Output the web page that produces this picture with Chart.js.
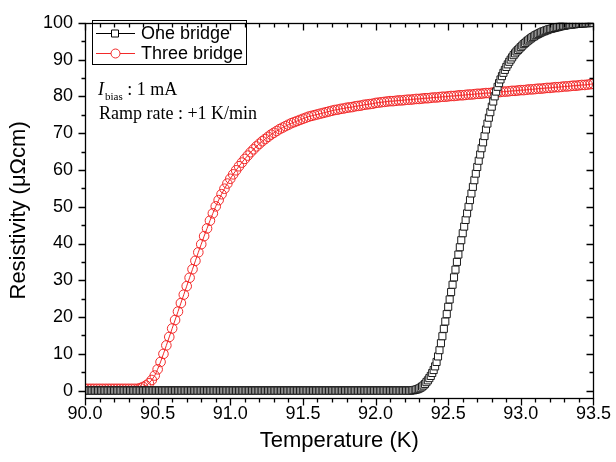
<!DOCTYPE html>
<html><head><meta charset="utf-8">
<script src="https://cdn.jsdelivr.net/npm/chart.js@4/dist/chart.umd.min.js"></script>
<style>html,body{margin:0;padding:0;background:#fff;}#wrap{position:relative;width:616px;height:462px;}</style>
</head><body><div id="wrap"><canvas id="c" width="616" height="462"></canvas></div>
<script>
// Temperatures (K) of the "One bridge" measurement
const tempsOne = [
90.00,90.01,90.02,90.03,90.04,90.05,90.06,90.07,90.08,90.09,
90.10,90.11,90.12,90.13,90.14,90.15,90.16,90.17,90.18,90.19,
90.20,90.21,90.22,90.23,90.24,90.25,90.26,90.27,90.28,90.29,
90.30,90.31,90.32,90.33,90.34,90.35,90.36,90.37,90.38,90.39,
90.40,90.41,90.42,90.43,90.44,90.45,90.46,90.47,90.48,90.49,
90.50,90.51,90.52,90.53,90.54,90.55,90.56,90.57,90.58,90.59,
90.60,90.61,90.62,90.63,90.64,90.65,90.66,90.67,90.68,90.69,
90.70,90.71,90.72,90.73,90.74,90.75,90.76,90.77,90.78,90.79,
90.80,90.81,90.82,90.83,90.84,90.85,90.86,90.87,90.88,90.89,
90.90,90.91,90.92,90.93,90.94,90.95,90.96,90.97,90.98,90.99,
91.00,91.01,91.02,91.03,91.04,91.05,91.06,91.07,91.08,91.09,
91.10,91.11,91.12,91.13,91.14,91.15,91.16,91.17,91.18,91.19,
91.20,91.21,91.22,91.23,91.24,91.25,91.26,91.27,91.28,91.29,
91.30,91.31,91.32,91.33,91.34,91.35,91.36,91.37,91.38,91.39,
91.40,91.41,91.42,91.43,91.44,91.45,91.46,91.47,91.48,91.49,
91.50,91.51,91.52,91.53,91.54,91.55,91.56,91.57,91.58,91.59,
91.60,91.61,91.62,91.63,91.64,91.65,91.66,91.67,91.68,91.69,
91.70,91.71,91.72,91.73,91.74,91.75,91.76,91.77,91.78,91.79,
91.80,91.81,91.82,91.83,91.84,91.85,91.86,91.87,91.88,91.89,
91.90,91.91,91.92,91.93,91.94,91.95,91.96,91.97,91.98,91.99,
92.00,92.01,92.02,92.03,92.04,92.05,92.06,92.07,92.08,92.09,
92.10,92.11,92.12,92.13,92.14,92.15,92.16,92.17,92.18,92.19,
92.20,92.21,92.22,92.23,92.24,92.25,92.26,92.27,92.28,92.29,
92.30,92.31,92.32,92.33,92.34,92.35,92.36,92.37,92.38,92.39,
92.40,92.41,92.42,92.43,92.44,92.45,92.46,92.47,92.48,92.49,
92.50,92.51,92.52,92.53,92.54,92.55,92.56,92.57,92.58,92.59,
92.60,92.61,92.62,92.63,92.64,92.65,92.66,92.67,92.68,92.69,
92.70,92.71,92.72,92.73,92.74,92.75,92.76,92.77,92.78,92.79,
92.80,92.81,92.82,92.83,92.84,92.85,92.86,92.87,92.88,92.89,
92.90,92.91,92.92,92.93,92.94,92.95,92.96,92.97,92.98,92.99,
93.00,93.01,93.02,93.03,93.04,93.05,93.06,93.07,93.08,93.09,
93.10,93.11,93.12,93.13,93.14,93.15,93.16,93.17,93.18,93.19,
93.20,93.21,93.22,93.23,93.24,93.25,93.26,93.27,93.28,93.29,
93.30,93.31,93.32,93.33,93.34,93.35,93.36,93.37,93.38,93.39,
93.40,93.41,93.42,93.43,93.44,93.45,93.46,93.47,93.48,93.49,
93.50];

// Resistivity (µΩcm), One bridge
const oneBridge = [
0,0,0,0,0,0,0,0,0,0, 0,0,0,0,0,0,0,0,0,0,
0,0,0,0,0,0,0,0,0,0, 0,0,0,0,0,0,0,0,0,0,
0,0,0,0,0,0,0,0,0,0, 0,0,0,0,0,0,0,0,0,0,
0,0,0,0,0,0,0,0,0,0, 0,0,0,0,0,0,0,0,0,0,
0,0,0,0,0,0,0,0,0,0, 0,0,0,0,0,0,0,0,0,0,
0,0,0,0,0,0,0,0,0,0, 0,0,0,0,0,0,0,0,0,0,
0,0,0,0,0,0,0,0,0,0, 0,0,0,0,0,0,0,0,0,0,
0,0,0,0,0,0,0,0,0,0, 0,0,0,0,0,0,0,0,0,0,
0,0,0,0,0,0,0,0,0,0, 0,0,0,0,0,0,0,0,0,0,
0,0,0,0,0,0,0,0,0,0, 0,0,0,0,0,0,0,0,0,0,
0,0,0,0,0,0,0,0,0,0, 0,0,0,0,0,0,0,0,0,0,
0,0,0,0,0,0.1,0.1,0.2,0.3,0.4,
0.6,0.8,1.1,1.4,1.8,2.3,2.8,3.4,4.0,4.8,
5.6,6.6,7.8,9.3,11.0,12.9,14.8,16.8,18.8,20.8,
22.8,24.8,26.8,28.8,30.8,32.9,35.0,37.0,39.0,40.9,
42.8,44.6,46.4,48.2,50.0,51.8,53.6,55.4,57.2,59.0,
60.8,62.5,64.2,65.9,67.5,69.2,71.0,72.6,74.2,75.7,
77.2,78.6,80.0,81.3,82.6,83.6,84.6,85.5,86.4,87.2,
88.0,88.7,89.4,90.0,90.6,91.2,91.7,92.2,92.6,93.0,
93.4,93.8,94.2,94.5,94.9,95.2,95.5,95.8,96.1,96.3,
96.6,96.8,97.0,97.2,97.4,97.6,97.7,97.9,98.0,98.2,
98.3,98.4,98.5,98.6,98.7,98.8,98.9,99.0,99.1,99.2,
99.2,99.3,99.4,99.4,99.5,99.5,99.6,99.6,99.7,99.7,
99.7,99.8,99.8,99.8,99.9,99.9,99.9,99.9,100,100,
100];

// Temperatures (K) of the "Three bridge" measurement
const tempsThree = [
90.00,90.02,90.04,90.06,90.08,90.10,90.12,90.14,90.16,90.18,
90.20,90.22,90.24,90.26,90.28,90.30,90.32,90.34,90.36,90.38,
90.40,90.42,90.44,90.46,90.48,90.50,90.52,90.54,90.56,90.58,
90.60,90.62,90.64,90.66,90.68,90.70,90.72,90.74,90.76,90.78,
90.80,90.82,90.84,90.86,90.88,90.90,90.92,90.94,90.96,90.98,
91.00,91.02,91.04,91.06,91.08,91.10,91.12,91.14,91.16,91.18,
91.20,91.22,91.24,91.26,91.28,91.30,91.32,91.34,91.36,91.38,
91.40,91.42,91.44,91.46,91.48,91.50,91.52,91.54,91.56,91.58,
91.60,91.62,91.64,91.66,91.68,91.70,91.72,91.74,91.76,91.78,
91.80,91.82,91.84,91.86,91.88,91.90,91.92,91.94,91.96,91.98,
92.00,92.02,92.04,92.06,92.08,92.10,92.12,92.14,92.16,92.18,
92.20,92.22,92.24,92.26,92.28,92.30,92.32,92.34,92.36,92.38,
92.40,92.42,92.44,92.46,92.48,92.50,92.52,92.54,92.56,92.58,
92.60,92.62,92.64,92.66,92.68,92.70,92.72,92.74,92.76,92.78,
92.80,92.82,92.84,92.86,92.88,92.90,92.92,92.94,92.96,92.98,
93.00,93.02,93.04,93.06,93.08,93.10,93.12,93.14,93.16,93.18,
93.20,93.22,93.24,93.26,93.28,93.30,93.32,93.34,93.36,93.38,
93.40,93.42,93.44,93.46,93.48,93.50];

// Resistivity (µΩcm), Three bridge
const threeBridge = [
0.5,0.5,0.5,0.5,0.5,0.5,0.5,0.5,0.5,0.5,
0.5,0.5,0.5,0.5,0.5,0.5,0.5,0.5,0.5,0.7,
1.0,1.4,2.0,2.9,4.1,5.8,7.8,10.0,12.3,14.6,
16.9,19.2,21.5,23.8,26.1,28.4,30.7,33.0,35.3,37.6,
39.8,42.0,44.1,46.2,48.2,50.1,51.8,53.4,54.9,56.3,
57.6,58.8,59.9,61.0,62.0,63.0,63.9,64.8,65.6,66.4,
67.1,67.8,68.4,69.0,69.6,70.1,70.6,71.1,71.5,71.9,
72.3,72.7,73.0,73.3,73.6,73.9,74.2,74.5,74.7,74.9,
75.1,75.3,75.5,75.7,75.9,76.1,76.3,76.4,76.6,76.7,
76.9,77.0,77.1,77.3,77.4,77.5,77.7,77.8,77.9,78.0,
78.2,78.3,78.4,78.5,78.6,78.7,78.7,78.8,78.9,78.9,
79.0,79.1,79.1,79.2,79.3,79.3,79.4,79.5,79.5,79.6,
79.7,79.7,79.8,79.9,79.9,80.0,80.1,80.1,80.2,80.3,
80.3,80.4,80.5,80.5,80.6,80.7,80.7,80.8,80.9,80.9,
81.0,81.1,81.1,81.2,81.3,81.3,81.4,81.5,81.5,81.6,
81.7,81.7,81.8,81.9,81.9,82.0,82.1,82.1,82.2,82.3,
82.3,82.4,82.5,82.5,82.6,82.7,82.7,82.8,82.9,82.9,
83.0,83.1,83.1,83.2,83.3,83.4];

const seriesNames = ['One bridge', 'Three bridge'];
const xTickLabels = [90.0, 90.5, 91.0, 91.5, 92.0, 92.5, 93.0, 93.5];
const yTickLabels = [0, 10, 20, 30, 40, 50, 60, 70, 80, 90, 100];
const xTitle = 'Temperature (K)';
const yTitle = 'Resistivity (\u03BC\u03A9cm)';
const noteBias = ['I', 'bias', ' : 1 mA'];
const noteRamp = 'Ramp rate : +1 K/min';

const SANS = '"Liberation Sans", Arial, sans-serif';
const SERIF = '"Liberation Serif", "Times New Roman", serif';
const RED = '#f22a2a';

Chart.defaults.color = '#000';
Chart.defaults.font.family = SANS;

const toPts = (xs, ys) => xs.map((t, i) => ({x: t, y: ys[i]}));

const frameTicks = {
  id: 'frameTicks',
  afterDatasetsDraw(chart) {
    const ctx = chart.ctx;
    ctx.save();
    // legend box
    const bx = 92.5, by = 20.5, bw = 154, bh = 44;
    ctx.fillStyle = '#fff';
    ctx.fillRect(bx, by, bw, bh);
    ctx.strokeStyle = '#000'; ctx.lineWidth = 1;
    ctx.strokeRect(bx, by, bw, bh);
    const rows = [{y: 33.5, c: '#000', s: 'rect'}, {y: 53.5, c: RED, s: 'circle'}];
    rows.forEach((r, i) => {
      ctx.strokeStyle = r.c; ctx.lineWidth = 1;
      ctx.beginPath(); ctx.moveTo(96, r.y); ctx.lineTo(135, r.y); ctx.stroke();
      ctx.fillStyle = '#fff';
      ctx.beginPath();
      if (r.s === 'rect') ctx.rect(111.5, r.y - 3.5, 7, 7);
      else ctx.arc(115.5, r.y, 4.5, 0, Math.PI * 2);
      ctx.fill(); ctx.stroke();
      ctx.fillStyle = '#000';
      ctx.font = '18px ' + SANS;
      ctx.textBaseline = 'middle';
      ctx.fillText(seriesNames[i], 141, r.y + 1);
    });
    // annotation
    ctx.textBaseline = 'alphabetic';
    ctx.fillStyle = '#000';
    ctx.font = 'italic 18px ' + SERIF;
    ctx.fillText(noteBias[0], 98, 95);
    const wI = ctx.measureText(noteBias[0]).width;
    ctx.font = '11px ' + SERIF;
    ctx.fillText(noteBias[1], 98 + wI + 1, 100);
    const wB = ctx.measureText(noteBias[1]).width;
    ctx.font = '18px ' + SERIF;
    ctx.fillText(noteBias[2], 98 + wI + 1 + wB, 95);
    ctx.fillText(noteRamp, 99, 119);
    ctx.restore();
  },
  afterDraw(chart) {
    const {ctx, chartArea: a, scales: {x, y}} = chart;
    ctx.save();
    ctx.strokeStyle = '#000'; ctx.lineWidth = 1.3;
    const L = Math.round(a.left) + 0.5, R = Math.round(a.right) + 0.5;
    const T = Math.round(a.top) + 0.5, B = Math.round(a.bottom) + 0.5;
    ctx.strokeRect(L, T, R - L, B - T);
    ctx.beginPath();
    const xt = (v, len) => {
      const p = Math.round(x.getPixelForValue(v)) + 0.5;
      ctx.moveTo(p, B); ctx.lineTo(p, B + len);
      ctx.moveTo(p, T); ctx.lineTo(p, T + len);
    };
    const yt = (v, len) => {
      const p = Math.round(y.getPixelForValue(v)) + 0.5;
      ctx.moveTo(L - len, p); ctx.lineTo(L, p);
      ctx.moveTo(R, p); ctx.lineTo(R - len, p);
    };
    xTickLabels.forEach(v => xt(v, 7));
    for (let i = 0; i < xTickLabels.length - 1; i++) {
      for (let k = 1; k < 5; k++) xt(xTickLabels[i] + k * (xTickLabels[i + 1] - xTickLabels[i]) / 5, 4);
    }
    yTickLabels.forEach(v => yt(v, 7));
    for (let i = 0; i < yTickLabels.length - 1; i++) yt((yTickLabels[i] + yTickLabels[i + 1]) / 2, 4);
    ctx.stroke();
    ctx.restore();
  }
};

new Chart(document.getElementById('c'), {
  type: 'line',
  data: {
    datasets: [
      {
        label: seriesNames[0], data: toPts(tempsOne, oneBridge),
        borderColor: '#000', borderWidth: 1,
        pointStyle: 'rect', pointRadius: 5, pointBorderColor: '#1a1a1a',
        pointBackgroundColor: '#fff', pointBorderWidth: 1, clip: 0
      },
      {
        label: seriesNames[1], data: toPts(tempsThree, threeBridge),
        borderColor: RED, borderWidth: 1,
        pointStyle: 'circle', pointRadius: 4.8, pointBorderColor: RED,
        pointBackgroundColor: 'rgba(255,255,255,0)', pointBorderWidth: 1, clip: 0
      }
    ]
  },
  options: {
    responsive: false, animation: false, devicePixelRatio: 1,
    events: [],
    layout: {padding: {left: 0, right: 15, top: 17, bottom: 0}},
    plugins: {legend: {display: false}, tooltip: {enabled: false}},
    elements: {line: {tension: 0}},
    scales: {
      x: {
        type: 'linear', min: 90, max: 93.5,
        grid: {display: false, drawTicks: false},
        border: {display: false},
        afterBuildTicks: s => { s.ticks = xTickLabels.map(v => ({value: v})); },
        afterFit: s => { s.height = 64; },
        ticks: {font: {size: 18, family: SANS}, color: '#000', padding: 5, maxRotation: 0,
                callback: v => Number(v).toFixed(1)},
        title: {display: true, text: xTitle, font: {size: 22, family: SANS}, color: '#000',
                padding: {top: 0, bottom: 8}}
      },
      y: {
        type: 'linear', min: -2, max: 100,
        grid: {display: false, drawTicks: false},
        border: {display: false},
        afterBuildTicks: s => { s.ticks = yTickLabels.map(v => ({value: v})); },
        afterFit: s => { s.width = 85; },
        ticks: {font: {size: 18, family: SANS}, color: '#000', padding: 12},
        title: {display: true, text: yTitle, font: {size: 22, family: SANS}, color: '#000',
                padding: {top: 6, bottom: 0}}
      }
    }
  },
  plugins: [frameTicks]
});
</script>
</body></html>
